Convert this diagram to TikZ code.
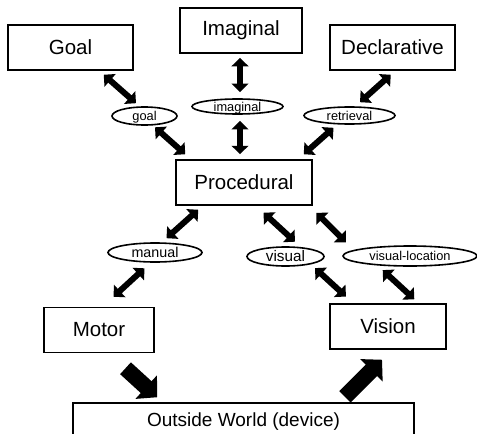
\documentclass[tikz,border=0pt]{standalone}
\usepackage{fontspec}
\setmainfont{Liberation Sans}
\usetikzlibrary{shapes.geometric,arrows.meta}
\begin{document}
\begin{tikzpicture}[x=1pt,y=-1pt,
 box/.style={draw,line width=1.5pt,rectangle,inner sep=0pt,font=\fontsize{20.5}{24}\selectfont},
 oval/.style={draw,line width=1.6pt,ellipse,inner sep=0pt,text height=9.5pt,text depth=0.5pt,font=\fontsize{12.8}{14}\selectfont},
 dbl/.style={line width=6pt,{Triangle[length=8.5pt,width=16.5pt]}-{Triangle[length=8.5pt,width=16.5pt]}},
 big/.style={line width=16pt,-{Triangle[length=15pt,width=31pt]}}]
\useasboundingbox (0,0) rectangle (477,434);
\clip (0,0) rectangle (477,434);
\fill[white] (0,0) rectangle (477,434);
% boxes
\node[box,minimum width=125pt,minimum height=45pt] (Goal) at (70.5,47.5) {Goal};
\node[box,minimum width=122pt,minimum height=45pt] (Imaginal) at (241,30.5) {Imaginal};
\node[box,minimum width=125pt,minimum height=45pt] (Declarative) at (392.5,47.5) {Declarative};
\node[box,minimum width=136pt,minimum height=45pt] (Proc) at (244,182.5) {Procedural};
\node[box,minimum width=110pt,minimum height=45pt] (Motor) at (99,330) {Motor};
\node[box,minimum width=116pt,minimum height=45pt] (Vision) at (388,326.5) {Vision};
\node[box,minimum width=341pt,minimum height=38pt,font=\fontsize{19}{22}\selectfont] (Outside) at (243.5,422) {Outside World (device)};
% ellipses
\node[oval,minimum width=65pt,minimum height=18pt] (goalE) at (144.5,116) {goal};
\node[oval,minimum width=91pt,minimum height=15pt] (imagE) at (237.5,106.5) {imaginal};
\node[oval,minimum width=91pt,minimum height=17pt] (retrE) at (349.5,115.5) {retrieval};
\node[oval,minimum width=94pt,minimum height=19pt,font=\fontsize{14.3}{16}\selectfont,text height=10.5pt] (manualE) at (155,252.5) {manual};
\node[oval,minimum width=77pt,minimum height=19pt,font=\fontsize{15.3}{17}\selectfont,text height=10.5pt] (visualE) at (285.5,256.5) {visual};
\node[oval,minimum width=134pt,minimum height=20pt] (vlocE) at (410,256) {visual-location};
% double arrows
\draw[dbl] ([shift={(-30,4)}]Goal.south east) -- ([shift={(-8.5,-3)}]goalE.north);
\draw[dbl] ([shift={(10.5,1.5)}]goalE.south) -- ([shift={(10,-5)}]Proc.north west);
\draw[dbl] ([shift={(-1,4)}]Imaginal.south) -- ([shift={(2.5,-6)}]imagE.north);
\draw[dbl] ([shift={(2.5,6)}]imagE.south) -- ([shift={(-4,-5)}]Proc.north);
\draw[dbl] ([shift={(61.5,4)}]Declarative.south west) -- ([shift={(10.5,-4)}]retrE.north);
\draw[dbl] ([shift={(-16,3)}]retrE.south) -- ([shift={(-9,-5)}]Proc.north east);
\draw[dbl] ([shift={(23,4)}]Proc.south west) -- ([shift={(11.5,-4)}]manualE.north);
\draw[dbl] ([shift={(-10.5,5.5)}]manualE.south) -- ([shift={(14.5,-10)}]Motor.north);
\draw[dbl] ([shift={(19.5,7)}]Proc.south) -- ([shift={(9.5,-4.5)}]visualE.north);
\draw[dbl] ([shift={(3.5,7)}]Proc.south east) -- ([shift={(3.7,-13.7)}]vlocE.west);
\draw[dbl] ([shift={(29.5,1.3)}]visualE.south) -- ([shift={(16.7,-6.7)}]Vision.north west);
\draw[dbl] ([shift={(-27.3,3.3)}]vlocE.south) -- ([shift={(26.3,-4)}]Vision.north);
% big arrows
\draw[big] ([shift={(26.5,15)}]Motor.south) -- ([shift={(85,-5)}]Outside.north west);
\draw[big] ([shift={(101.5,-5.5)}]Outside.north) -- ([shift={(-6,10)}]Vision.south);
\end{tikzpicture}
\end{document}
